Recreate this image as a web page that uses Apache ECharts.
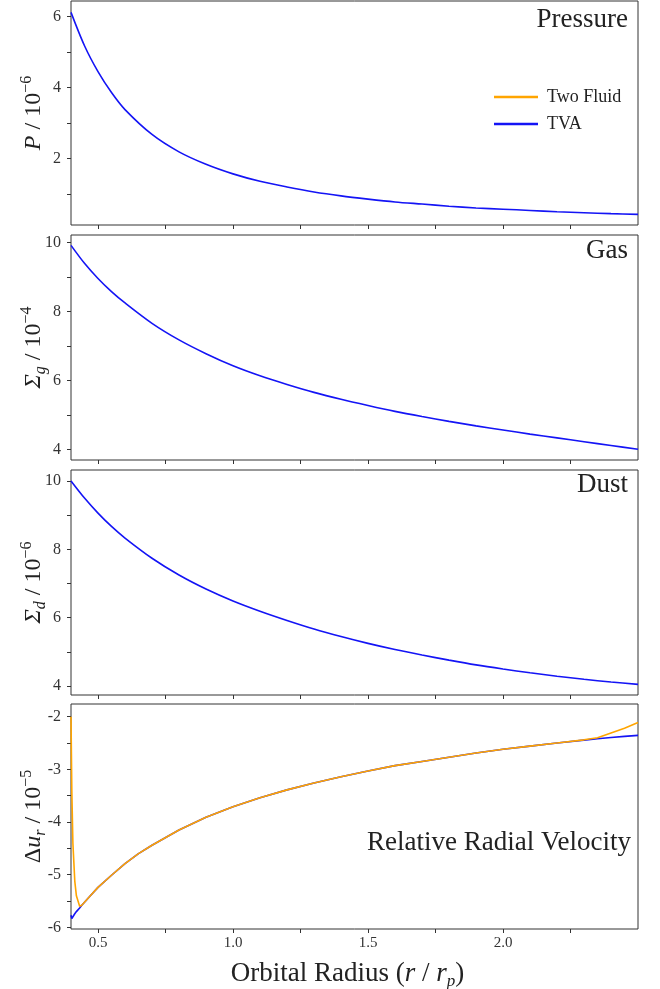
<!DOCTYPE html>
<html>
<head>
<meta charset="utf-8">
<script src="https://cdn.jsdelivr.net/npm/echarts@6/dist/echarts.min.js"></script>
<style>
html,body{margin:0;padding:0;background:#fff;}
#chart{width:660px;height:989px;}
</style>
</head>
<body>
<div id="chart"></div>
<script>
// ---- data ----
const radius = [0.40,0.45,0.50,0.55,0.60,0.70,0.80,0.90,1.00,1.10,1.20,1.30,1.40,1.50,1.60,1.70,1.80,1.90,2.00,2.10,2.20,2.30,2.40,2.50];
const pressure = [6.12,5.18,4.45,3.86,3.38,2.68,2.19,1.84,1.57,1.36,1.20,1.06,0.95,0.86,0.78,0.72,0.66,0.61,0.575,0.54,0.505,0.475,0.45,0.43];
const gasDensity = [9.92,9.40,8.96,8.58,8.25,7.66,7.18,6.78,6.43,6.14,5.89,5.66,5.46,5.28,5.11,4.96,4.82,4.69,4.57,4.45,4.34,4.23,4.12,4.01];
const dustDensity = [10.0,9.50,9.06,8.67,8.33,7.74,7.25,6.84,6.49,6.19,5.92,5.67,5.45,5.25,5.07,4.91,4.76,4.62,4.50,4.39,4.29,4.20,4.12,4.05];

const velRadius = [0.400,0.403,0.407,0.414,0.420,0.432,0.440,0.47,0.50,0.55,0.60,0.65,0.70,0.80,0.90,1.00,1.10,1.20,1.30,1.40,1.50,1.60,1.70,1.80,1.90,2.00,2.10,2.20,2.30,2.35,2.40,2.45,2.50];
const tvaVelocity = [-5.77,-5.83,-5.80,-5.74,-5.70,-5.63,-5.58,-5.41,-5.24,-5.01,-4.79,-4.60,-4.44,-4.15,-3.91,-3.71,-3.54,-3.39,-3.26,-3.14,-3.03,-2.93,-2.85,-2.77,-2.69,-2.62,-2.56,-2.50,-2.445,-2.42,-2.395,-2.375,-2.355];
const twoFluidVelocity = [-2.00,-3.40,-4.40,-5.12,-5.40,-5.60,-5.58,-5.41,-5.24,-5.01,-4.79,-4.60,-4.44,-4.15,-3.91,-3.71,-3.54,-3.39,-3.26,-3.14,-3.03,-2.93,-2.85,-2.77,-2.69,-2.62,-2.56,-2.50,-2.44,-2.40,-2.31,-2.22,-2.11];

const xTicks = [0.5,0.75,1.0,1.25,1.5,1.75,2.0,2.25];
const xTickLabels = [0.5,1.0,1.5,2.0];
const pTicks = [1,2,3,4,5,6];
const pTickLabels = [2,4,6];
const sigmaTicks = [4,5,6,7,8,9,10];
const sigmaTickLabels = [4,6,8,10];
const velTicks = [-6,-5.5,-5,-4.5,-4,-3.5,-3,-2.5,-2];
const velTickLabels = [-6,-5,-4,-3,-2];
const panelTitles = ['Pressure','Gas','Dust','Relative Radial Velocity'];

// ---- styling ----
const SERIF = '"Liberation Serif", "DejaVu Serif", serif';
const BLUE = '#1414f5';
const ORANGE = '#ffa500';
const grids = [
  {left:71, right:22, top:1, height:224},
  {left:71, right:22, top:235, height:225},
  {left:71, right:22, top:470, height:225},
  {left:71, right:22, top:704, height:225}
].map(g => Object.assign(g, {show:true, borderColor:'#333', borderWidth:1, backgroundColor:'transparent', containLabel:false, outerBoundsMode:'none'}));

const nameRich = {
  i: {fontStyle:'italic', fontSize:24, fontFamily:SERIF, color:'#222', lineHeight:30},
  n: {fontSize:24, fontFamily:SERIF, color:'#222', lineHeight:30},
  sup: {fontSize:16, fontFamily:SERIF, color:'#222', lineHeight:16, verticalAlign:'top'},
  sub: {fontStyle:'italic', fontSize:16, fontFamily:SERIF, color:'#222', lineHeight:14, verticalAlign:'bottom'}
};
const xNameRich = {
  i: {fontStyle:'italic', fontSize:27, fontFamily:SERIF, color:'#222', lineHeight:32},
  n: {fontSize:27, fontFamily:SERIF, color:'#222', lineHeight:32},
  sub: {fontStyle:'italic', fontSize:17, fontFamily:SERIF, color:'#222', lineHeight:15, verticalAlign:'bottom'}
};

function xAxis(i, showLabels) {
  const ax = {
    type:'value', gridIndex:i, min:0.4, max:2.5,
    axisLine:{show:false},
    splitLine:{show:false},
    axisTick:{show:true, inside:false, length:4, lineStyle:{color:'#333', width:1}, customValues:xTicks},
    axisLabel:{show:showLabels, customValues:xTickLabels, margin:7,
      formatter:v => v.toFixed(1), fontFamily:SERIF, fontSize:15, color:'#333'}
  };
  if (showLabels) {
    ax.name = '{n|Orbital Radius (}{i|r}{n| / }{i|r}{sub|p}{n|)}';
    ax.nameLocation = 'middle';
    ax.nameGap = 29;
    ax.nameTextStyle = {fontFamily:SERIF, fontSize:27, color:'#222', rich:xNameRich, padding:[0,14,0,0]};
  }
  return ax;
}
function yAxis(i, min, max, ticks, labels, name, gap) {
  return {
    type:'value', gridIndex:i, min:min, max:max,
    axisLine:{show:false},
    splitLine:{show:false},
    axisTick:{show:true, inside:false, length:4, lineStyle:{color:'#333', width:1}, customValues:ticks},
    axisLabel:{customValues:labels, margin:10, fontFamily:SERIF, fontSize:16, color:'#333',
      formatter:v => String(v)},
    name:name, nameLocation:'middle', nameGap:gap, nameMoveOverlap:false,
    nameTextStyle:{fontFamily:SERIF, fontSize:24, color:'#222', rich:nameRich}
  };
}

const chart = echarts.init(document.getElementById('chart'), null, {renderer:'canvas'});
const lineBase = {type:'line', showSymbol:false, symbol:'none', smooth:0.3, animation:false};
const zip = (xs, ys) => xs.map((x, k) => [x, ys[k]]);

chart.setOption({
  backgroundColor:'#fff',
  animation:false,
  grid:grids,
  title: panelTitles.map((t, k) => ({
    text:t, right:[27,27,27,24][k], top:[1,232,466,824][k],
    textStyle:{fontFamily:SERIF, fontSize:27, fontWeight:'normal', color:'#222'}
  })),
  legend:{
    orient:'vertical', left:489, top:83, icon:'rect', itemWidth:44, itemHeight:2.5, itemGap:9,
    textStyle:{fontFamily:SERIF, fontSize:18, color:'#222', padding:[0,0,0,4]},
    data:['Two Fluid','TVA']
  },
  xAxis:[xAxis(0,false), xAxis(1,false), xAxis(2,false), xAxis(3,true)],
  yAxis:[
    yAxis(0, 0.13, 6.44, pTicks, pTickLabels, '{i|P}{n| / 10}{sup|−6}', 22),
    yAxis(1, 3.70, 10.22, sigmaTicks, sigmaTickLabels, '{i|Σ}{sub|g}{n| / 10}{sup|−4}', 22),
    yAxis(2, 3.74, 10.32, sigmaTicks, sigmaTickLabels, '{i|Σ}{sub|d}{n| / 10}{sup|−6}', 22),
    yAxis(3, -6.03, -1.76, velTicks, velTickLabels, '{n|Δ}{i|u}{sub|r}{n| / 10}{sup|−5}', 22)
  ],
  series:[
    Object.assign({}, lineBase, {name:'TVA', xAxisIndex:0, yAxisIndex:0, data:zip(radius, pressure), lineStyle:{color:BLUE, width:1.6}, itemStyle:{color:BLUE}}),
    Object.assign({}, lineBase, {name:'TVA', xAxisIndex:1, yAxisIndex:1, data:zip(radius, gasDensity), lineStyle:{color:BLUE, width:1.6}, itemStyle:{color:BLUE}}),
    Object.assign({}, lineBase, {name:'TVA', xAxisIndex:2, yAxisIndex:2, data:zip(radius, dustDensity), lineStyle:{color:BLUE, width:1.6}, itemStyle:{color:BLUE}}),
    Object.assign({}, lineBase, {name:'TVA', xAxisIndex:3, yAxisIndex:3, smooth:false, data:zip(velRadius, tvaVelocity), lineStyle:{color:BLUE, width:1.6}, itemStyle:{color:BLUE}}),
    Object.assign({}, lineBase, {name:'Two Fluid', xAxisIndex:3, yAxisIndex:3, smooth:false, data:zip(velRadius, twoFluidVelocity), lineStyle:{color:ORANGE, width:1.6}, itemStyle:{color:ORANGE}, z:3})
  ]
});
</script>
</body>
</html>
